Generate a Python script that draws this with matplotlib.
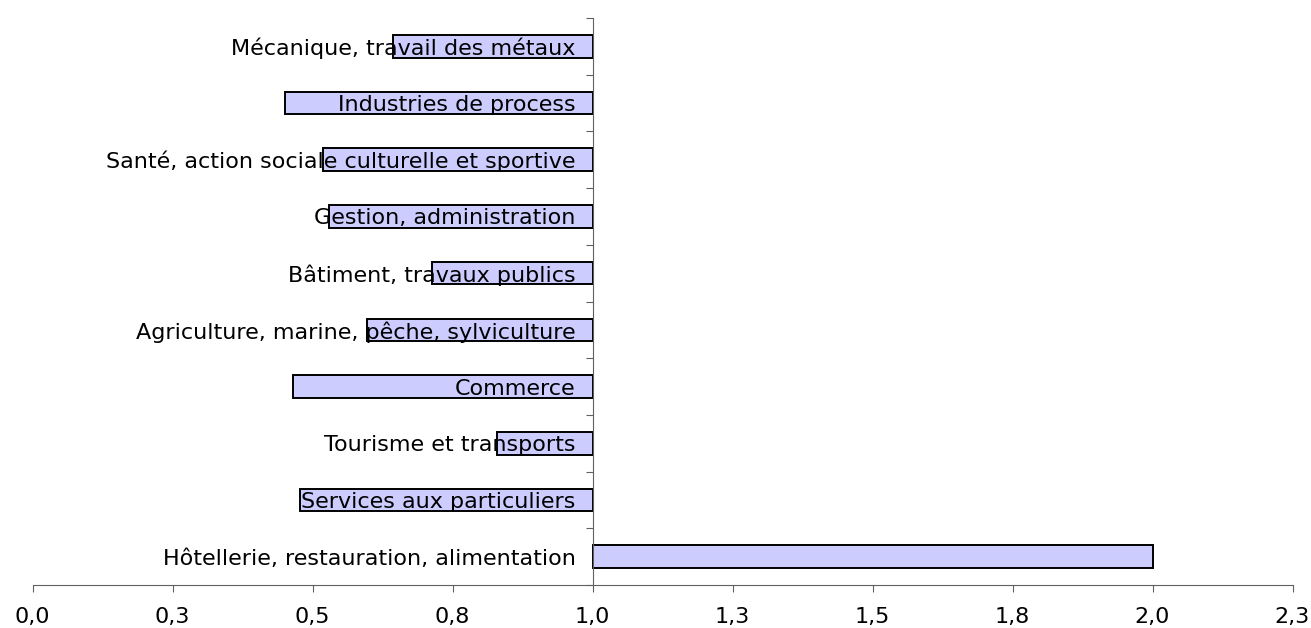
import matplotlib.pyplot as plt
import numpy as np

# categories from bottom to top
categories = [
    "Hôtellerie, restauration, alimentation",
    "Services aux particuliers",
    "Tourisme et transports",
    "Commerce",
    "Agriculture, marine, pêche, sylviculture",
    "Bâtiment, travaux publics",
    "Gestion, administration",
    "Santé, action sociale culturelle et sportive",
    "Industries de process",
    "Mécanique, travail des métaux",
]
values = [2.00, 0.477, 0.830, 0.465, 0.597, 0.713, 0.530, 0.518, 0.451, 0.644]
baseline = 1.0

xticks = [0.0, 0.25, 0.5, 0.75, 1.0, 1.25, 1.5, 1.75, 2.0, 2.25]
xticklabels = ["0,0", "0,3", "0,5", "0,8", "1,0", "1,3", "1,5", "1,8", "2,0", "2,3"]

fig = plt.figure(figsize=(13.11, 6.28), dpi=100)
ax = fig.add_axes([32.5 / 1311, 43 / 628, 1260 / 1311, 567 / 628])

y = np.arange(len(categories))
widths = np.array(values) - baseline
ax.barh(y, widths, left=baseline, height=0.4, color="#ccccff",
        edgecolor="black", linewidth=1.4, zorder=1)

ax.set_xlim(0, 2.25)
ax.set_ylim(-0.5, len(categories) - 0.5)

for s in ["top", "right"]:
    ax.spines[s].set_visible(False)
ax.spines["left"].set_position(("data", baseline))
ax.spines["left"].set_color("#606060")
ax.spines["bottom"].set_color("#606060")

ax.set_xticks(xticks)
ax.set_xticklabels(xticklabels, fontsize=16)
ax.tick_params(axis="x", direction="out", length=5, color="#606060", pad=11)

# y ticks at category boundaries, labels at category centres
ax.set_yticks(np.arange(len(categories) + 1) - 0.5)
ax.set_yticklabels([])
ax.set_yticks(y, minor=True)
ax.set_yticklabels(categories, minor=True, fontsize=16)
ax.tick_params(axis="y", which="major", direction="out", length=5, color="#606060")
ax.tick_params(axis="y", which="minor", length=0, pad=12)
for lab in ax.get_yticklabels(minor=True):
    lab.set_zorder(5)

fig.savefig("out.png", dpi=100)
